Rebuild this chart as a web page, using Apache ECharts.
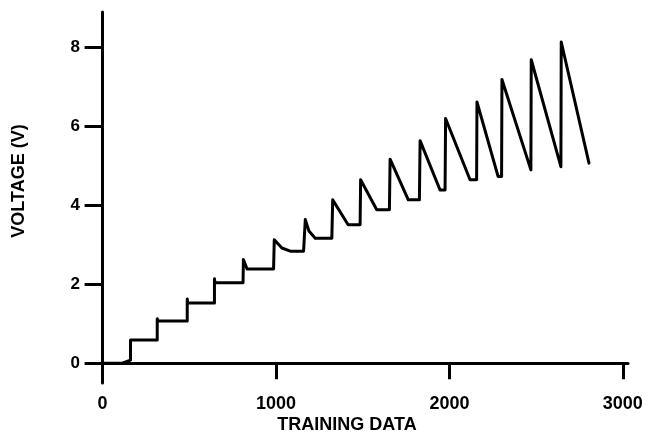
<!DOCTYPE html>
<html>
<head>
<meta charset="utf-8">
<script src="https://cdn.jsdelivr.net/npm/echarts@6/dist/echarts.min.js"></script>
<style>
html,body{margin:0;padding:0;background:#fff;}
#chart{width:653px;height:444px;}
</style>
</head>
<body>
<div id="chart"></div>
<script>
// Training data index (x) and voltage (y)
var trainingData = [0, 113, 161, 161, 315, 315, 318, 488, 488, 491, 645, 645, 648, 810, 812, 833, 986, 990, 1034, 1082, 1159, 1169, 1190, 1226, 1322, 1327, 1416, 1485, 1488, 1581, 1654, 1658, 1763, 1827, 1831, 1946, 1975, 1978, 2119, 2157, 2159, 2281, 2301, 2303, 2470, 2472, 2643, 2645, 2805];
var voltage      = [0, 0, 0.08, 0.59, 0.59, 1.13, 1.07, 1.07, 1.63, 1.53, 1.53, 2.14, 2.04, 2.04, 2.63, 2.39, 2.39, 3.13, 2.92, 2.84, 2.84, 3.64, 3.35, 3.17, 3.17, 4.14, 3.51, 3.51, 4.65, 3.89, 3.89, 5.17, 4.14, 4.14, 5.64, 4.39, 4.39, 6.20, 4.65, 4.65, 6.62, 4.73, 4.73, 7.19, 4.90, 7.69, 4.98, 8.14, 5.07];
var xTicks = [0, 1000, 2000, 3000];
var yTicks = [0, 2, 4, 6, 8];
var xTitle = 'TRAINING DATA';
var yTitle = 'VOLTAGE (V)';

var points = trainingData.map(function (x, i) { return [x, voltage[i]]; });

var chart = echarts.init(document.getElementById('chart'), null, {renderer: 'canvas'});
var font = '"Liberation Sans", Arial, Helvetica, sans-serif';
chart.setOption({
  animation: false,
  backgroundColor: '#fff',
  grid: {left: 87, right: 25, top: 12, bottom: 61, containLabel: false},
  xAxis: {
    type: 'value', min: -90, max: 3030,
    axisLine: {onZero: true, lineStyle: {color: '#000', width: 3}},
    axisTick: {customValues: xTicks, length: 16, inside: false, lineStyle: {color: '#000', width: 3}},
    axisLabel: {customValues: xTicks, margin: 12, color: '#000', fontFamily: font, fontWeight: 'bold', fontSize: 18,
      formatter: function (v) { return String(v); }},
    splitLine: {show: false}
  },
  yAxis: {
    type: 'value', min: -0.5, max: 8.9,
    axisLine: {show: true, onZero: true, lineStyle: {color: '#000', width: 3}},
    axisTick: {show: true, customValues: yTicks, length: 18, inside: false, lineStyle: {color: '#000', width: 3}},
    axisLabel: {customValues: yTicks, margin: 7, color: '#000', fontFamily: font, fontWeight: 'bold', fontSize: 17,
      formatter: function (v) { return String(v); }},
    splitLine: {show: false}
  },
  graphic: [
    {type: 'text', x: 19, y: 181, rotation: Math.PI / 2,
     style: {text: yTitle, fill: '#000', font: 'bold 18px ' + font, textAlign: 'center', textVerticalAlign: 'middle'}},
    {type: 'text', x: 347, y: 425,
     style: {text: xTitle, fill: '#000', font: 'bold 18px ' + font, textAlign: 'center', textVerticalAlign: 'middle'}}
  ],
  series: [{
    type: 'line',
    data: points,
    showSymbol: false,
    symbol: 'none',
    lineStyle: {color: '#000', width: 3, join: 'round', cap: 'round'},
    z: 5
  }]
});
</script>
</body>
</html>
